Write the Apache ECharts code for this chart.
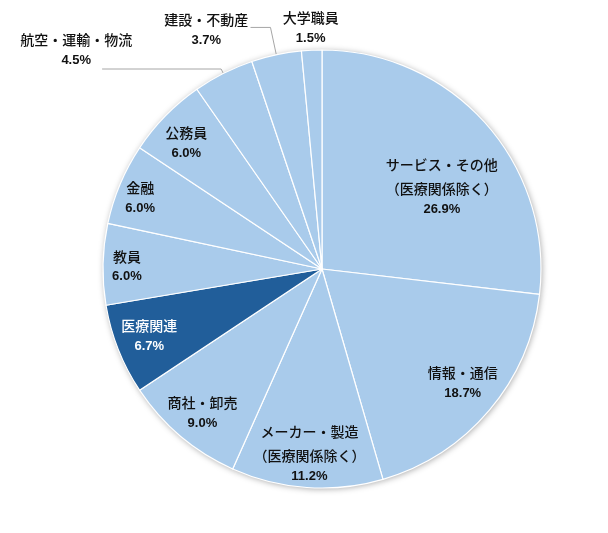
<!DOCTYPE html>
<html><head><meta charset="utf-8">
<script src="https://cdn.jsdelivr.net/npm/echarts@6/dist/echarts.min.js"></script>
<style>html,body{margin:0;padding:0;background:#fff}#chart{width:608px;height:533px}</style>
</head><body><div id="chart"></div>
<script>
// ---- data ----
const categories = [
  'サービス・その他\n（医療関係除く）',
  '情報・通信',
  'メーカー・製造\n（医療関係除く）',
  '商社・卸売',
  '医療関連',
  '教員',
  '金融',
  '公務員',
  '航空・運輸・物流',
  '建設・不動産',
  '大学職員'
];
const values = [26.9, 18.7, 11.2, 9.0, 6.7, 6.0, 6.0, 6.0, 4.5, 3.7, 1.5];
const highlightCategory = '医療関連';
const outsideCategories = ['航空・運輸・物流', '建設・不動産', '大学職員'];

// ---- layout / style ----
const CX = 322, CY = 269, R = 219;
// label placement: [radius fraction, angle shift (deg)] per slice
const labelPlace = [
  [0.664, 6.6], [0.826, -1.9], [0.847, 0], [0.854, 0], [0.845, 1.2],
  [0.891, 0.3], [0.892, -0.7], [0.846, -0.9], [1.504, -21.5], [1.212, -13.8], [1.104, 0]
];
const lineLens = { '航空・運輸・物流': [5, 119], '建設・不動産': [28, 20], '大学職員': [2, 2] };
const LIGHT = '#A9CBEB', DARK = '#215E9A', TEXT = '#111111';

const chart = echarts.init(document.getElementById('chart'), null, { renderer: 'canvas' });

const mainData = categories.map((name, i) => {
  const item = { name, value: values[i], itemStyle: { color: name === highlightCategory ? DARK : LIGHT } };
  if (outsideCategories.includes(name)) {
    item.label = { position: 'outside', width: 140 };
    item.labelLine = {
      show: true, length: lineLens[name][0], length2: lineLens[name][1],
      lineStyle: { color: '#a6a6a6', width: 1, opacity: name === '大学職員' ? 0 : 1 }
    };
  }
  return item;
});
const shadowData = categories.map((name, i) => ({ name, value: values[i] }));

const option = {
  backgroundColor: '#fff',
  animation: false,
  series: [
    {
      type: 'pie', silent: true, z: 1,
      center: [CX, CY], radius: R,
      data: shadowData,
      label: { show: false }, labelLine: { show: false },
      itemStyle: { color: LIGHT, shadowBlur: 6, shadowColor: 'rgba(0,0,0,0.35)', shadowOffsetX: 1, shadowOffsetY: 1 }
    },
    {
      type: 'pie', silent: true, z: 2,
      center: [CX, CY], radius: R,
      avoidLabelOverlap: false,
      data: mainData,
      itemStyle: { borderColor: '#ffffff', borderWidth: 1.2 },
      labelLine: { show: false },
      label: {
        show: true, position: 'inside',
        formatter: p => {
          const w = p.name === highlightCategory;
          return '{' + (w ? 'nw' : 'n') + '|' + p.name + '}\n{' + (w ? 'pw' : 'p') + '|' + p.value.toFixed(1) + '%}';
        },
        rich: {
          n: { fontFamily: 'Noto Sans CJK JP', fontSize: 14, fontWeight: 500, color: TEXT, lineHeight: 24, align: 'center' },
          nw: { fontFamily: 'Noto Sans CJK JP', fontSize: 14, fontWeight: 500, color: '#fff', lineHeight: 24, align: 'center' },
          p: { fontFamily: 'Liberation Sans', fontSize: 13, fontWeight: 'bold', color: TEXT, lineHeight: 17, align: 'center' },
          pw: { fontFamily: 'Liberation Sans', fontSize: 13, fontWeight: 'bold', color: '#fff', lineHeight: 17, align: 'center' }
        }
      },
      labelLayout: function (params) {
        const idx = params.dataIndex;
        const name = categories[idx];
        const place = labelPlace[idx];
        const rc = params.labelRect;
        const lx = rc.x + rc.width / 2, ly = rc.y + rc.height / 2;
        const isOut = outsideCategories.includes(name) && params.labelLinePoints;
        let ax, ay;
        if (isOut) { ax = params.labelLinePoints[0][0] - CX; ay = params.labelLinePoints[0][1] - CY; }
        else { ax = lx - CX; ay = ly - CY; }
        const ang = Math.atan2(ax, -ay) + place[1] * Math.PI / 180;
        const d = place[0] * R;
        const tx = CX + d * Math.sin(ang), ty = CY - d * Math.cos(ang);
        const out = { dx: tx - lx, dy: ty - ly };
        if (isOut) out.labelLinePoints = params.labelLinePoints;
        return out;
      }
    }
  ]
};
chart.setOption(option);
</script>
</body></html>
